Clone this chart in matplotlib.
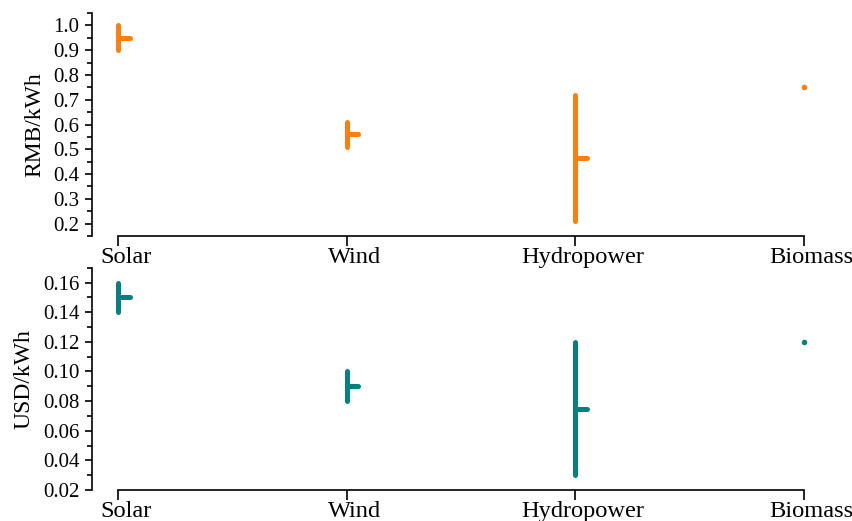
import matplotlib
matplotlib.use("Agg")
import matplotlib.pyplot as plt
from matplotlib.ticker import MultipleLocator, FixedLocator, FixedFormatter, NullFormatter
import numpy as np

# data
categories = ["Solar", "Wind", "Hydropower", "Biomass"]

rmb_low  = [0.90, 0.51, 0.21, 0.75]
rmb_high = [1.00, 0.61, 0.72, 0.75]
rmb_mean = [0.95, 0.56, 0.465, 0.75]

usd_low  = [0.14, 0.08, 0.03, 0.12]
usd_high = [0.16, 0.10, 0.12, 0.12]
usd_mean = [0.15, 0.09, 0.075, 0.12]

C_RMB = "#FF7F0E"
C_USD = "#008080"

plt.rcParams["font.family"] = ["Liberation Serif", "DejaVu Serif"]

fig = plt.figure(figsize=(8.53, 5.21), dpi=100)
ax1 = fig.add_axes([0.108, 0.547, 0.888, 0.428])
ax2 = fig.add_axes([0.108, 0.0595, 0.888, 0.4265])
ax2.patch.set_visible(False)   # let the upper axis labels show through

x = np.arange(len(categories))
label_nudge = 0.033   # labels sit a bit right of their ticks in the original


def draw(ax, low, high, mean, color, ylabel, ylim, major, minor, fmt):
    for xi, lo, hi, m in zip(x, low, high, mean):
        if hi > lo:
            ax.plot([xi, xi], [lo, hi], color=color, lw=3.6, solid_capstyle="round")
            ax.plot([xi, xi + 0.05], [m, m], color=color, lw=3.6, solid_capstyle="round")
        else:
            # single value: only a small dot
            ax.plot([xi], [m], "o", color=color, ms=4, mew=0)
    ax.set_xlim(-0.114, 3.2)
    ax.set_ylim(*ylim)
    # tick marks on majors, category names on (invisible) minors
    ax.xaxis.set_major_locator(FixedLocator(x))
    ax.xaxis.set_major_formatter(NullFormatter())
    ax.xaxis.set_minor_locator(FixedLocator(x + label_nudge))
    ax.xaxis.set_minor_formatter(FixedFormatter(categories))
    ax.tick_params(axis="x", which="major", length=7, width=1.2)
    ax.tick_params(axis="x", which="minor", length=0, pad=8, labelsize=17.6)
    ax.yaxis.set_major_locator(MultipleLocator(major))
    ax.yaxis.set_minor_locator(MultipleLocator(minor))
    ax.yaxis.set_major_formatter(fmt)
    ax.set_ylabel(ylabel, fontsize=17, labelpad=6)
    ax.tick_params(axis="y", labelsize=15, length=5, width=1.2, pad=4)
    ax.tick_params(axis="y", which="minor", length=3.5, width=1.2)
    ax.spines["top"].set_visible(False)
    ax.spines["right"].set_visible(False)
    ax.spines["bottom"].set_bounds(0, 3)
    ax.spines["left"].set_linewidth(1.2)
    ax.spines["bottom"].set_linewidth(1.2)


draw(ax1, rmb_low, rmb_high, rmb_mean, C_RMB, "RMB/kWh", (0.15, 1.05), 0.1, 0.05, "{x:.1f}")
draw(ax2, usd_low, usd_high, usd_mean, C_USD, "USD/kWh", (0.02, 0.17), 0.02, 0.01, "{x:.2f}")

fig.savefig("out.png", dpi=100)
